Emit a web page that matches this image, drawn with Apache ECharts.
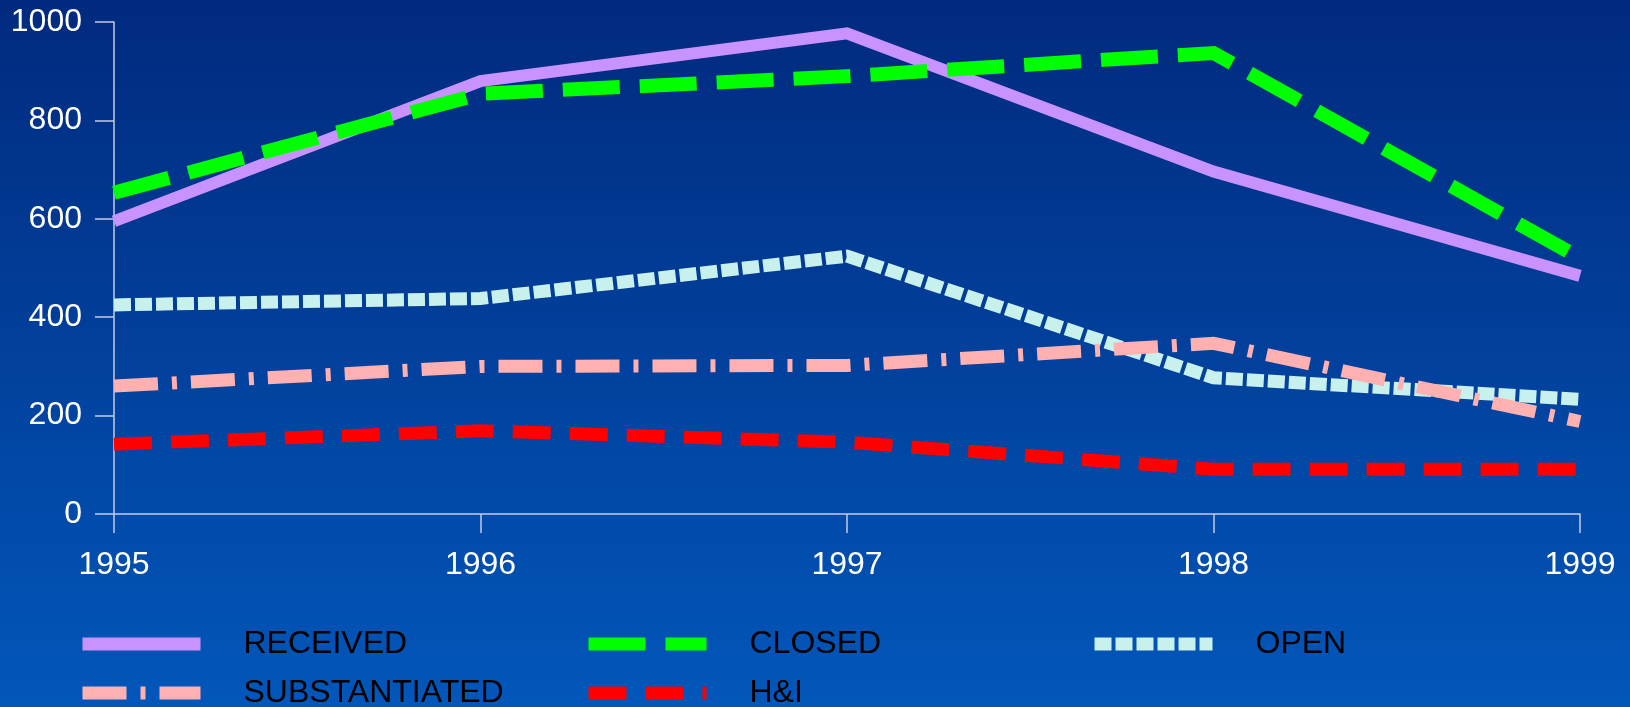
<!DOCTYPE html>
<html>
<head>
<meta charset="utf-8">
<script src="https://cdn.jsdelivr.net/npm/echarts@6/dist/echarts.min.js"></script>
<style>
html,body{margin:0;padding:0;width:1630px;height:707px;overflow:hidden;}
#chart{width:1630px;height:707px;}
</style>
</head>
<body>
<div id="chart"></div>
<script>
const years = ['1995', '1996', '1997', '1998', '1999'];
const received = [595, 880, 977, 696, 484];
const closed = [653, 854, 890, 937, 520];
const openCases = [425, 438, 524, 277, 233];
const substantiated = [260, 300, 302, 347, 188];
const hAndI = [142, 169, 146, 91, 91];
const yTicks = [0, 200, 400, 600, 800, 1000];

const FONT = '"Liberation Sans", Arial, sans-serif';

const seriesDefs = [
  { name: 'RECEIVED', data: received, color: '#c993ff', width: 12, dash: 'solid' },
  { name: 'CLOSED', data: closed, color: '#00ff00', width: 14, dash: [57, 20] },
  { name: 'OPEN', data: openCases, color: '#c8f0ec', width: 13, dash: [17, 4] },
  { name: 'SUBSTANTIATED', data: substantiated, color: '#ffb0b0', width: 13, dash: [44, 14, 5, 14] },
  { name: 'H&I', data: hAndI, color: '#ff0000', width: 13, dash: [38, 19] }
];

const legendPos = [
  { left: 71, top: 623 },
  { left: 577, top: 623 },
  { left: 1083, top: 623 },
  { left: 71, top: 672 },
  { left: 577, top: 672 }
];

const chart = echarts.init(document.getElementById('chart'), null, { renderer: 'canvas' });

chart.setOption({
  animation: false,
  backgroundColor: {
    type: 'linear', x: 0, y: 0, x2: 0, y2: 1,
    colorStops: [
      { offset: 0, color: '#012a7e' },
      { offset: 1, color: '#0257ba' }
    ]
  },
  grid: { left: 114, right: 50, top: 22, bottom: 193, containLabel: false },
  legend: seriesDefs.map((s, i) => ({
    data: [{ name: s.name }],
    left: legendPos[i].left,
    top: legendPos[i].top,
    itemWidth: 118,
    itemHeight: 13,
    selectedMode: false,
    itemStyle: { opacity: 0, borderWidth: 0, color: 'rgba(0,0,0,0)' },
    lineStyle: { width: 13, color: s.color, type: s.dash, opacity: 1, cap: 'butt' },
    textStyle: {
      color: '#000000',
      fontSize: 32,
      fontFamily: FONT,
      padding: [0, 0, 0, 38]
    }
  })),
  xAxis: {
    type: 'category',
    data: years,
    boundaryGap: false,
    axisLine: { show: true, lineStyle: { color: '#c4cce6', width: 1.5 } },
    axisTick: { show: true, length: 19, inside: false, lineStyle: { color: '#c4cce6', width: 1.5 } },
    axisLabel: { color: '#ffffff', fontSize: 32, fontFamily: FONT, margin: 35 },
    splitLine: { show: false }
  },
  yAxis: {
    type: 'value',
    min: yTicks[0],
    max: yTicks[yTicks.length - 1],
    interval: yTicks[1] - yTicks[0],
    axisLine: { show: true, lineStyle: { color: '#c4cce6', width: 1.5 } },
    axisTick: { show: true, length: 19, inside: false, lineStyle: { color: '#c4cce6', width: 1.5 } },
    axisLabel: { color: '#ffffff', fontSize: 32, fontFamily: FONT, margin: 32, formatter: v => String(v) },
    splitLine: { show: false }
  },
  series: seriesDefs.map(s => ({
    name: s.name,
    type: 'line',
    data: s.data,
    symbol: 'none',
    showSymbol: false,
    smooth: false,
    color: s.color,
    lineStyle: { color: s.color, width: s.width, type: s.dash, cap: 'butt', join: 'miter' }
  }))
});
</script>
</body>
</html>
